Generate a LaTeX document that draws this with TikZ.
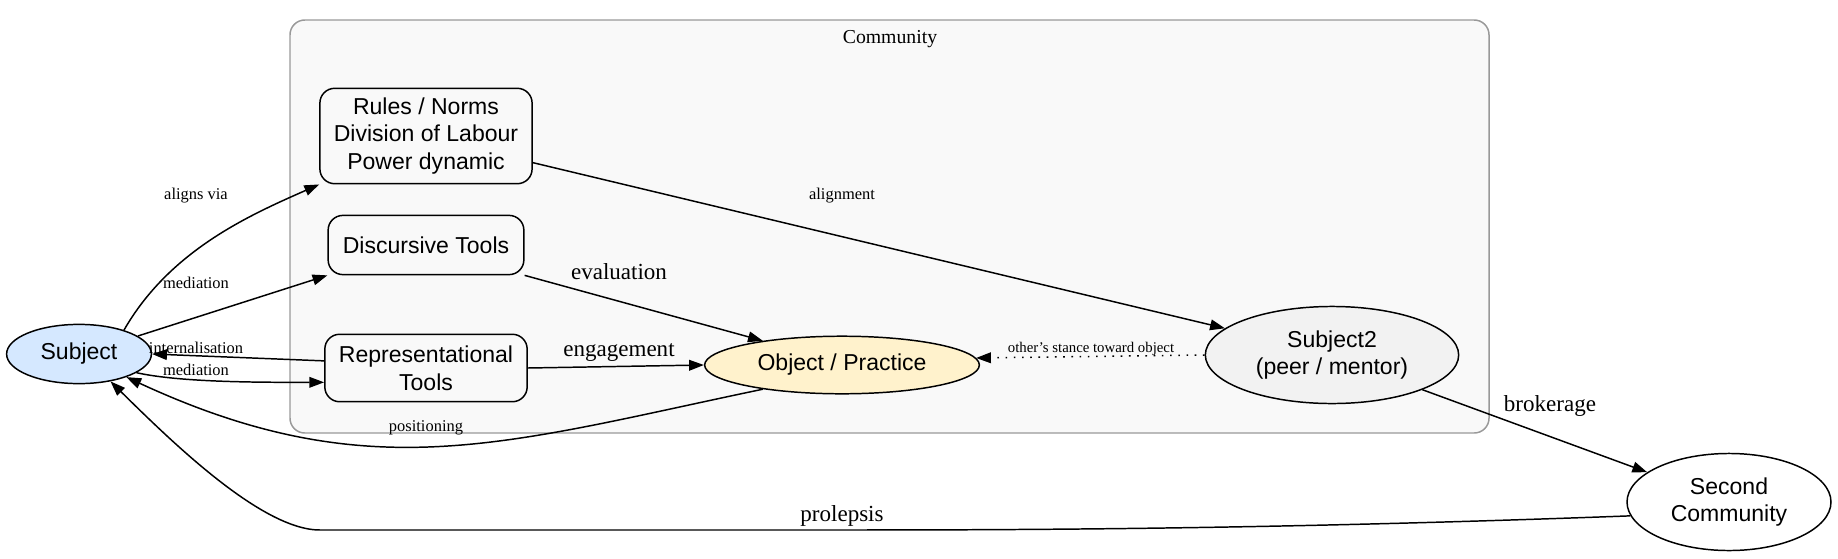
\documentclass[tikz,border=0pt]{standalone}
\usepackage{fontspec}
\setmainfont{Liberation Serif}
\setsansfont{Liberation Sans}
\usetikzlibrary{shapes.geometric,arrows.meta}
\definecolor{subjblue}{HTML}{D5E8FF}
\definecolor{objyellow}{HTML}{FFF2CC}
\definecolor{peergray}{HTML}{F2F2F2}
\definecolor{clusterfill}{HTML}{F9F9F9}
\definecolor{clusterdraw}{HTML}{999999}
\tikzset{
    actor/.style={ellipse,draw,line width=0.9pt,inner sep=0pt,align=center,
        font=\sffamily\fontsize{14}{16.8}\selectfont},
    toolbox/.style={rectangle,draw,rounded corners=9pt,line width=0.9pt,inner sep=2pt,
        align=center,font=\sffamily\fontsize{14}{16.8}\selectfont},
    link/.style={line width=0.9pt,-{Triangle[length=9pt,width=6.5pt]}},
    small/.style={font=\fontsize{10}{12}\selectfont,inner sep=0pt},
    big/.style={font=\fontsize{14}{16.8}\selectfont,inner sep=0pt},
}

\begin{document}
\begin{tikzpicture}[x=0.6079pt,y=-0.6079pt]
    \useasboundingbox (0,0) rectangle (1838,558);
    % cluster
    \draw[clusterdraw,fill=clusterfill,line width=0.9pt,rounded corners=9pt] (290,20) rectangle (1489,433);
    \node[font=\fontsize{12}{14}\selectfont] (comm) at (890,39) {Community};

    \node[actor,fill=subjblue,minimum width=88pt,minimum height=36pt] (subj) at (79,354) {Subject};
    \node[toolbox,minimum width=129pt,minimum height=58pt] (rules) at (426,136) {Rules / Norms\\Division of Labour\\Power dynamic};
    \node[toolbox,minimum width=119pt,minimum height=36pt] (disc) at (426,245) {Discursive Tools};
    \node[toolbox,minimum width=123pt,minimum height=41pt] (rep) at (426,368) {Representational\\Tools};
    \node[actor,fill=objyellow,minimum width=167pt,minimum height=35pt] (obj) at (842,365) {Object / Practice};
    \node[actor,fill=peergray,minimum width=154pt,minimum height=59pt] (subj2) at (1332,355) {Subject2\\(peer / mentor)};
    \node[actor,fill=white,minimum width=124pt,minimum height=59pt] (second) at (1729,502) {Second\\Community};

    % subject side
    \draw[link] (subj.28) .. controls (170,250) and (250,215) .. (rules.south west)
        node[small] (lAligns) at (196,196) {aligns via};
    \draw[link] (subj.17) -- (disc.south west)
        node[small] (lMedTop) at (196,283) {mediation};
    \draw[link] (rep.176) -- (subj.east)
        node[small] (lIntern) at (196,348) {internalisation};
    \draw[link] (subj.-18) .. controls +(45,10) and +(-60,0) .. (rep.188)
        node[small] (lMedBot) at (196,370) {mediation};
    \draw[link] (obj.197) .. controls (505,443) and (370,490) .. (subj.-26)
        node[small] (lPos) at (426,428) {positioning};

    % object side
    \draw[link] (disc.south east) -- (obj.163)
        node[big] (lEval) at (619,272) {evaluation};
    \draw[link] (rep.east) -- (obj.west)
        node[big] (lEngage) at (619,352) {engagement};
    \draw[link] (rules.-14) -- (subj2.166)
        node[small] (lAlign) at (842,196) {alignment};
    \draw[link,dash pattern=on 1pt off 4pt] (subj2.west) -- (obj.3)
        node[small,font=\fontsize{9}{11}\selectfont] (lStance) at (1091,349) {other's stance toward object};

    % second community
    \draw[link] (subj2.-21) -- (second.160)
        node[big] (lBroker) at (1550,406) {brokerage};
    \draw[link] (second.188) .. controls (1250,530) and (1000,530) .. (800,530) -- (320,530)
        .. controls (262,530) and (172,442) .. (subj.-41)
        node[big] (lProl) at (842,516) {prolepsis};
\end{tikzpicture}
\end{document}
